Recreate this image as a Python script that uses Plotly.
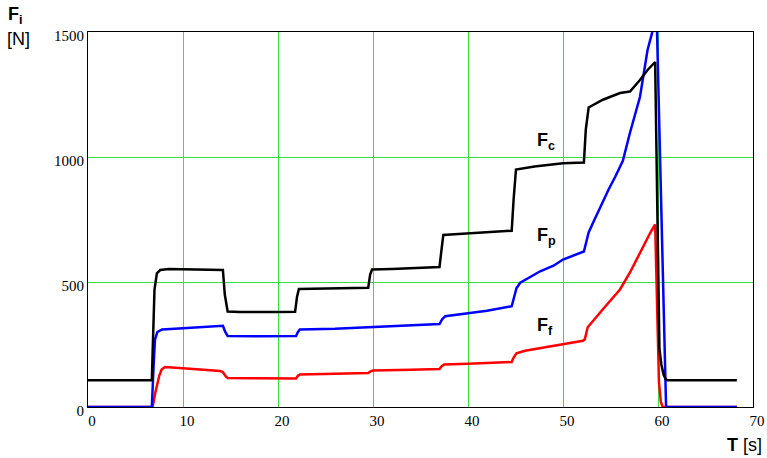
import plotly.graph_objects as go

# Time axis [s] and force values [N]
t_fc = [0, 6.72, 6.85, 7.0, 7.25, 7.6, 8.5, 10, 12, 13.5, 14.2, 14.4, 14.7, 16, 18, 20, 21.8, 22.0, 22.2,
        24, 26, 28, 29.5, 29.7, 29.9, 32, 35, 37.0, 37.2, 37.4, 39, 42, 44.6, 44.8, 45.05, 47, 50, 52.2,
        52.4, 52.7, 54.2, 56, 57.05, 58.1, 58.9, 59.7, 60.15, 60.35, 60.6, 60.8, 61.0, 68.3]
fc = [107, 107, 280, 470, 535, 548, 552, 551, 549, 551, 548, 450, 382, 380, 379, 380, 381, 440, 472,
      473, 475, 476, 477, 530, 550, 552, 556, 560, 625, 688, 692, 698, 705, 830, 950, 962, 975, 978,
      1110, 1198, 1229, 1256, 1262, 1308, 1348, 1380, 232, 170, 128, 112, 107, 107]

t_fp = [0, 6.72, 6.9, 7.05, 7.3, 7.8, 10, 12, 14.2, 14.45, 14.7, 18, 21.9, 22.1, 22.3, 26, 29.6, 33,
        37.0, 37.3, 37.6, 40, 42, 44.6, 44.85, 45.1, 45.5, 46.5, 47.6, 49, 50, 52.2, 52.45, 52.7, 53.2,
        53.9, 54.8, 55.5, 56.3, 57.05, 58.1, 58.9, 59.4, 59.65, 59.9, 60.85, 68.3]
fp = [0, 0, 160, 270, 300, 310, 315, 320, 325, 300, 284, 283, 284, 300, 310, 313, 319, 325,
      332, 352, 363, 375, 385, 403, 440, 475, 497, 520, 543, 565, 590, 622, 660, 698, 740,
      800, 870, 921, 985, 1097, 1240, 1428, 1500, 1580, 1500, 0, 0]

t_ff = [0, 6.8, 7.1, 7.5, 7.75, 8.1, 10, 12, 13.9, 14.2, 14.5, 14.7, 18, 21.9, 22.1, 22.3, 26, 29.5,
        29.7, 30.0, 34, 37.0, 37.2, 37.5, 40, 42, 44.6, 44.8, 45.1, 46, 48, 50, 52.1, 52.3, 52.6,
        54.2, 56, 57.05, 58.1, 59.2, 59.7, 59.95, 60.1, 60.3, 60.5, 68.3]
ff = [0, 0, 60, 125, 150, 160, 155, 150, 144, 140, 122, 116, 114, 114, 125, 130, 133, 136,
      142, 146, 149, 152, 162, 170, 173, 177, 180, 198, 215, 225, 238, 250, 265, 271, 319,
      391, 470, 538, 618, 698, 730, 380, 100, 20, 0, 0]

x_ticks = [0, 10, 20, 30, 40, 50, 60, 70]
y_ticks = [0, 500, 1000, 1500]

fig = go.Figure()
fig.add_trace(go.Scatter(x=t_ff, y=ff, mode="lines", line=dict(color="#ff0000", width=2.5), name="Ff"))
fig.add_trace(go.Scatter(x=t_fp, y=fp, mode="lines", line=dict(color="#0000ff", width=2.5), name="Fp"))
fig.add_trace(go.Scatter(x=t_fc, y=fc, mode="lines", line=dict(color="#000000", width=2.5), name="Fc"))

tickfont = dict(family="Liberation Serif, Times New Roman, serif", size=15, color="#000000")
fig.update_xaxes(range=[0, 70], tickvals=x_ticks, ticktext=[str(v) for v in x_ticks],
                 showgrid=True, gridcolor="#3be03b", gridwidth=1, zeroline=False,
                 showline=True, linecolor="#000000", linewidth=1, mirror=True, automargin=False,
                 ticks="", tickfont=tickfont, ticklabelshift=4)
fig.update_yaxes(range=[0, 1500], tickvals=y_ticks, ticktext=[str(v) for v in y_ticks],
                 showgrid=True, gridcolor="#3be03b", gridwidth=1, zeroline=False,
                 showline=True, linecolor="#000000", linewidth=1, mirror=True, automargin=False,
                 ticks="", tickfont=tickfont, ticklabelshift=4)

lab = dict(family="Liberation Sans, Arial, sans-serif", size=18, color="#000000")
annots = [
    dict(x=47.0, y=1062, xref="x", yref="y", text="<b>F</b><sub><b>c</b></sub>"),
    dict(x=47.0, y=682, xref="x", yref="y", text="<b>F</b><sub><b>p</b></sub>"),
    dict(x=47.0, y=321, xref="x", yref="y", text="<b>F</b><sub><b>f</b></sub>"),
]
for a in annots:
    fig.add_annotation(**a, showarrow=False, xanchor="left", yanchor="middle", font=lab)

fig.add_annotation(x=-0.123, y=1.08, xref="paper", yref="paper", text="<b>F</b><sub><b>i</b></sub>",
                   showarrow=False, xanchor="left", yanchor="top", font=lab)
fig.add_annotation(x=-0.125, y=1.013, xref="paper", yref="paper", text="[N]",
                   showarrow=False, xanchor="left", yanchor="top", font=lab)
fig.add_annotation(x=1.016, y=-0.102, xref="paper", yref="paper", text="<b>T</b> [s]",
                   showarrow=False, xanchor="right", yanchor="middle", font=lab)

fig.update_layout(width=767, height=458, margin=dict(l=88, r=14, t=32, b=51),
                  plot_bgcolor="#ffffff", paper_bgcolor="#ffffff", showlegend=False)

fig.write_html("out.html", config={"displayModeBar": False},
               post_script="document.body.style.margin='0';document.body.style.overflow='hidden';")
